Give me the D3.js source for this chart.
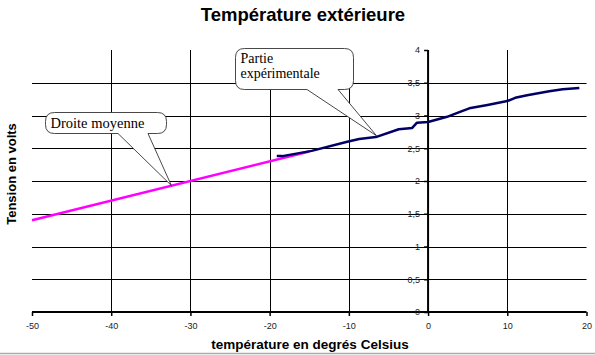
<!DOCTYPE html>
<html><head><meta charset="utf-8">
<script src="https://cdn.jsdelivr.net/npm/d3@7"></script>
<style>body{margin:0;background:#fff}svg{display:block}</style>
</head><body><svg id="c" width="595" height="355"></svg>
<script>
// data
const expT = [-19.1,-18.4,-14.7,-10.2,-8.7,-6.6,-3.7,-2.0,-1.4,0,2.4,3.7,5.2,7.5,10,11,12.5,15.3,17,19.1];
const expV = [2.38,2.38,2.46,2.60,2.64,2.67,2.79,2.81,2.89,2.90,2.98,3.04,3.11,3.16,3.22,3.27,3.31,3.37,3.40,3.42];
const moyT = [-50,-15];
const moyV = [1.40,2.45];
const xTicks = [-50,-40,-30,-20,-10,0,10,20];
const yTicks = [0,0.5,1,1.5,2,2.5,3,3.5,4];
const title = "Température extérieure";
const xTitle = "température en degrés Celsius";
const yTitle = "Tension en volts";

const svg = d3.select("#c");
const x = d3.scaleLinear().domain([-50,20]).range([32,586.5]);
const y = d3.scaleLinear().domain([0,4]).range([312,50]);
const fmt = d => String(d).replace(".", ",");

// grid
svg.append("g").selectAll("line").data(yTicks.filter(v=>v>0&&v<4)).join("line")
  .attr("x1",x(-50)).attr("x2",x(20)).attr("y1",d=>Math.round(y(d))+0.5).attr("y2",d=>Math.round(y(d))+0.5)
  .attr("stroke","#000").attr("stroke-width",1);
svg.append("g").selectAll("line").data(xTicks.filter(v=>v>-50&&v<20&&v!==0)).join("line")
  .attr("y1",y(0)).attr("y2",y(4)).attr("x1",d=>Math.round(x(d))+0.5).attr("x2",d=>Math.round(x(d))+0.5)
  .attr("stroke","#000").attr("stroke-width",1);

// axes
const xa = svg.append("g").attr("transform",`translate(0,${y(0)})`)
  .call(d3.axisBottom(x).tickValues(xTicks).tickSize(4).tickPadding(7).tickFormat(d=>d));
xa.select(".domain").attr("stroke-width",2).attr("d",`M${x(-50)},0H${x(20)}`);
xa.selectAll(".tick line").attr("stroke-width",1.5);
xa.selectAll("text").attr("font-family","Liberation Sans, Arial").attr("font-size",9).attr("fill","#222");

const ya = svg.append("g").attr("transform",`translate(${x(0)},0)`)
  .call(d3.axisLeft(y).tickValues(yTicks).tickSize(4).tickPadding(4).tickFormat(fmt));
ya.select(".domain").attr("stroke-width",2).attr("d",`M0,${y(0)}V${y(4)}`);
ya.selectAll(".tick line").attr("stroke-width",1.5);
ya.selectAll("text").attr("font-family","Liberation Sans, Arial").attr("font-size",9).attr("fill","#222");

// lines
const line = d3.line().x(d=>x(d[0])).y(d=>y(d[1]));
svg.append("path").datum(moyT.map((t,i)=>[t,moyV[i]])).attr("d",line)
  .attr("fill","none").attr("stroke","#ff00ff").attr("stroke-width",2.5);
svg.append("path").datum(expT.map((t,i)=>[t,expV[i]])).attr("d",line)
  .attr("fill","none").attr("stroke","#000066").attr("stroke-width",2.5).attr("stroke-linejoin","round");

// callouts
function callout(bx,by,bw,bh,b1,b2,tipT,tipV,lines,lh,fs,first){
  const tx = x(tipT), ty = y(tipV), r=9;
  const p = d3.path();
  p.moveTo(bx+r,by); p.lineTo(bx+bw-r,by); p.quadraticCurveTo(bx+bw,by,bx+bw,by+r);
  p.lineTo(bx+bw,by+bh-r); p.quadraticCurveTo(bx+bw,by+bh,bx+bw-r,by+bh);
  p.lineTo(b2,by+bh); p.lineTo(tx,ty); p.lineTo(b1,by+bh);
  p.lineTo(bx+r,by+bh); p.quadraticCurveTo(bx,by+bh,bx,by+bh-r);
  p.lineTo(bx,by+r); p.quadraticCurveTo(bx,by,bx+r,by); p.closePath();
  svg.append("path").attr("d",p.toString()).attr("fill","#fff").attr("stroke","#333").attr("stroke-width",0.9);
  lines.forEach((s,i)=>svg.append("text").attr("x",bx+5).attr("y",by+first+i*lh)
    .attr("font-family","Liberation Serif, Times New Roman").attr("font-size",fs).attr("fill","#000").text(s));
}
callout(45.5,112.5,121,21,118,148,-32.4,1.93,["Droite moyenne"],0,14.5,15);
callout(235.5,48.5,118,41,307,338,-6.5,2.69,["Partie","expérimentale"],15.5,14,14);

// titles
svg.append("text").attr("x",303).attr("y",21).attr("text-anchor","middle")
  .attr("font-family","Liberation Sans, Arial").attr("font-weight","bold").attr("font-size",18.5).text(title);
svg.append("text").attr("x",310).attr("y",349).attr("text-anchor","middle")
  .attr("font-family","Liberation Sans, Arial").attr("font-weight","bold").attr("font-size",13.5).text(xTitle);
svg.append("text").attr("transform","translate(16,174) rotate(-90)").attr("text-anchor","middle")
  .attr("font-family","Liberation Sans, Arial").attr("font-weight","bold").attr("font-size",13).text(yTitle);

svg.append("line").attr("x1",0).attr("x2",595).attr("y1",353.5).attr("y2",353.5).attr("stroke","#aaa").attr("stroke-width",1.5);
</script></body></html>
